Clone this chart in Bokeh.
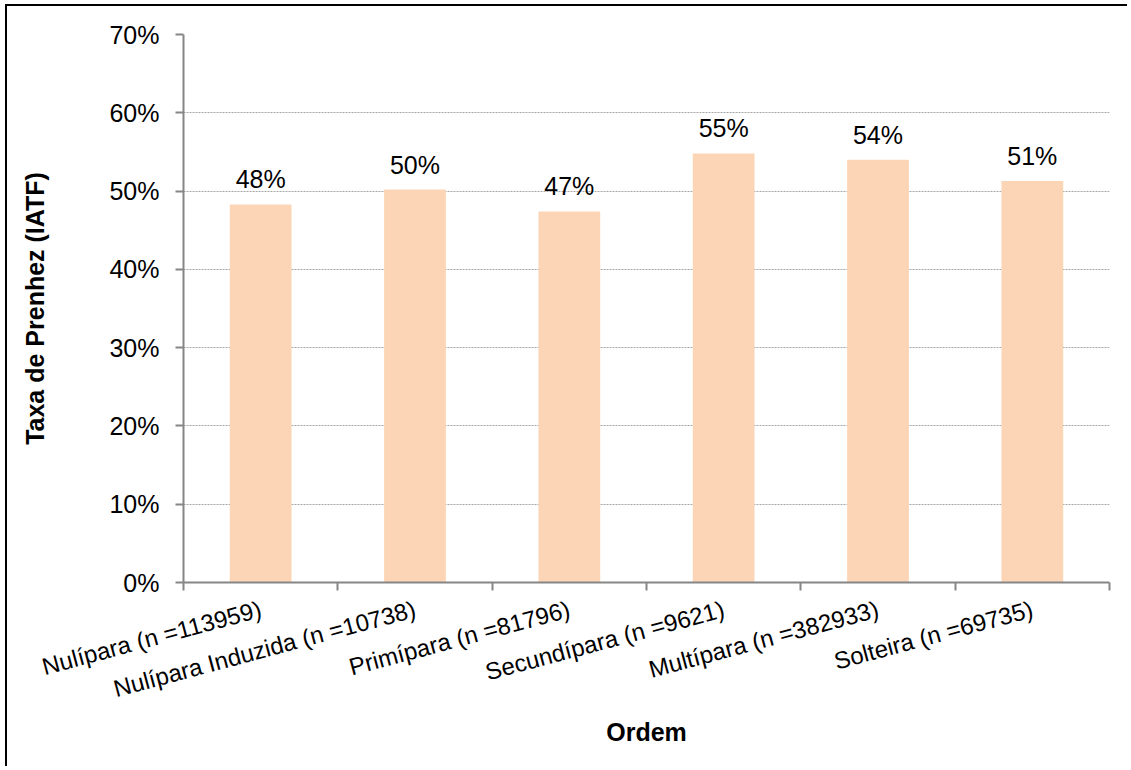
import math
from bokeh.plotting import figure
from bokeh.models import ColumnDataSource, FixedTicker, NumeralTickFormatter, Range1d, LabelSet
from bokeh.core.properties import value
from bokeh.embed import file_html
from bokeh.resources import INLINE

categories = ["Nulípara (n =113959)", "Nulípara Induzida (n =10738)", "Primípara (n =81796)",
              "Secundípara (n =9621)", "Multípara (n =382933)", "Solteira (n =69735)"]
rates = [0.483, 0.502, 0.474, 0.548, 0.540, 0.513]
y_ticks = [0.0, 0.1, 0.2, 0.3, 0.4, 0.5, 0.6, 0.7]

xs = [i + 0.5 for i in range(len(categories))]
labels = ["{:.0f}%".format(r * 100) for r in rates]
src = ColumnDataSource(dict(x=xs, top=rates, lab=labels))

FONT = "Liberation Sans"
FS = "25px"
FS_CAT = "24px"

p = figure(width=1122, height=762, output_backend="svg", toolbar_location=None,
           x_range=Range1d(0, len(categories)), y_range=Range1d(0, 0.70),
           min_border_left=176, min_border_top=28, min_border_right=20, min_border_bottom=186)
p.styles = {"border-left": "2px solid black", "border-top": "2px solid black",
            "margin-left": "5px", "margin-top": "4px"}
p.outline_line_color = None
p.background_fill_color = "white"
p.border_fill_color = "white"

p.vbar(x="x", top="top", width=0.4, bottom=0, source=src, fill_color="#FBD5B5", line_color=None)

p.add_layout(LabelSet(x="x", y="top", text="lab", source=src, text_align="center",
                      text_baseline="alphabetic", y_offset=16, text_font=value(FONT),
                      text_font_size=value(FS), text_color="#000000"))

# x axis
p.xaxis.ticker = FixedTicker(ticks=xs, minor_ticks=list(range(len(categories) + 1)))
p.xaxis.major_label_overrides = {x: c for x, c in zip(xs, categories)}
p.xaxis.major_label_orientation = math.radians(15)
p.xaxis.major_tick_line_color = None
p.xaxis.minor_tick_in = 0
p.xaxis.minor_tick_out = 8
p.xaxis.minor_tick_line_color = "#868686"
p.xaxis.minor_tick_line_width = 2
p.xaxis.axis_line_color = "#868686"
p.xaxis.axis_line_width = 2
p.xaxis.major_label_text_font = FONT
p.xaxis.major_label_text_font_size = FS_CAT
p.xaxis.major_label_text_color = "#000000"
p.xaxis.major_label_standoff = 18
p.xaxis.axis_label = "Ordem"
p.xaxis.axis_label_text_font = FONT
p.xaxis.axis_label_text_font_size = FS
p.xaxis.axis_label_text_font_style = "bold"
p.xaxis.axis_label_text_color = "#000000"
p.xaxis.axis_label_standoff = 0

# y axis
p.yaxis.ticker = FixedTicker(ticks=y_ticks, minor_ticks=[])
p.yaxis.formatter = NumeralTickFormatter(format="0%")
p.yaxis.major_tick_in = 0
p.yaxis.major_tick_out = 8
p.yaxis.major_tick_line_color = "#868686"
p.yaxis.major_tick_line_width = 2
p.yaxis.axis_line_color = "#868686"
p.yaxis.axis_line_width = 2
p.yaxis.major_label_text_font = FONT
p.yaxis.major_label_text_font_size = FS
p.yaxis.major_label_text_color = "#000000"
p.yaxis.major_label_standoff = 16
p.yaxis.axis_label = "Taxa de Prenhez (IATF)"
p.yaxis.axis_label_text_font = FONT
p.yaxis.axis_label_text_font_size = FS
p.yaxis.axis_label_text_font_style = "bold"
p.yaxis.axis_label_text_color = "#000000"
p.yaxis.axis_label_standoff = 57

p.xgrid.grid_line_color = None
p.ygrid.grid_line_color = "#A6A6A6"
p.ygrid.grid_line_dash = "2 1"
p.ygrid.grid_line_width = 1

open("out.html", "w").write(file_html(p, INLINE))
